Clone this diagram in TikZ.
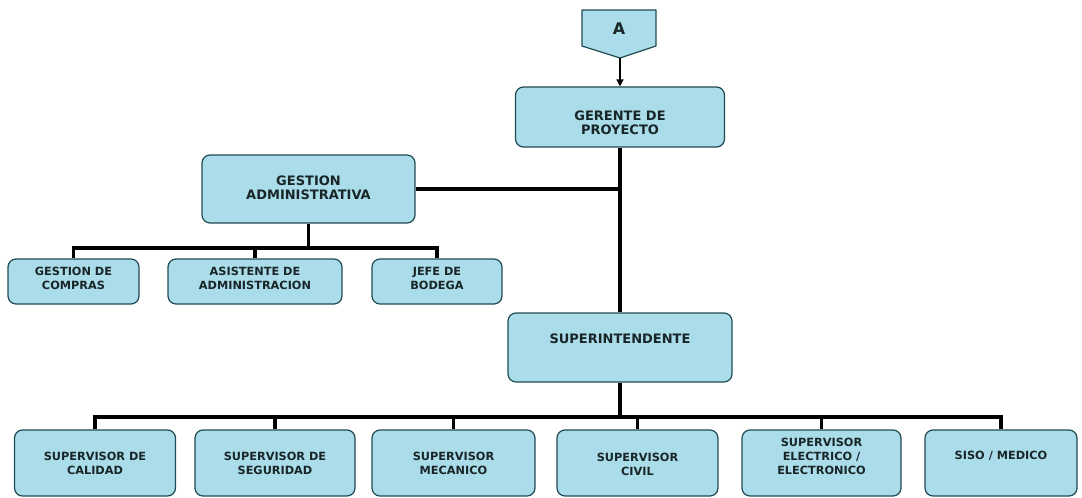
\documentclass[tikz,border=0pt]{standalone}
\usepackage{fontspec}
\setmainfont{DejaVu Sans}
\usetikzlibrary{arrows.meta}
\definecolor{boxfill}{HTML}{ABDCE9}
\definecolor{boxline}{HTML}{1E4A52}
\definecolor{txt}{HTML}{182628}
% centred label lines, moved up by #1 without changing the box size
\newcommand\boxlabel[2][0pt]{\raisebox{#1}[\height][\depth]{\begin{tabular}{@{}c@{}}#2\end{tabular}}}
\begin{document}
\begin{tikzpicture}[x=1pt,y=-1pt,
  unit/.style={draw=boxline, fill=boxfill, line width=1.2pt, rounded corners=8pt,
    align=center, text=txt, inner sep=0pt,
    font=\fontsize{11.3}{14}\selectfont\bfseries},
  headunit/.style={unit, font=\fontsize{13}{13.5}\selectfont\bfseries},
  bottomunit/.style={unit, minimum height=66pt},
  adminunit/.style={unit, minimum height=45pt},
  link/.style={draw=black, line width=3.1pt},
  feed/.style={draw=black, line width=1.4pt, -{Triangle[length=7pt,width=7pt]}}
]
\useasboundingbox (0,0) rectangle (1082,498);

% off-page connector "A"
\draw[draw=boxline, fill=boxfill, line width=1.2pt, line join=round]
  (582,10) -- (656,10) -- (656,46) -- (620,58) -- (582,46) -- cycle;
\node[text=txt, font=\fontsize{16}{18}\selectfont\bfseries] (conA) at (619,29) {A};
\coordinate (conAtip) at (620,58);

% top management
\node[headunit, minimum width=209pt, minimum height=60pt] (ger) at (620,117) {\boxlabel[-8pt]{GERENTE DE\\PROYECTO}};
\node[headunit, minimum width=213pt, minimum height=68pt] (gest) at (308.5,189) {\boxlabel[-1pt]{GESTION\\ADMINISTRATIVA}};
\node[headunit, minimum width=224pt, minimum height=69pt] (sup) at (620,347.5) {\boxlabel[7pt]{SUPERINTENDENTE}};

% administration staff
\node[adminunit, minimum width=131pt] (compras) at (73.5,281.5) {\boxlabel[1.5pt]{GESTION DE\\COMPRAS}};
\node[adminunit, minimum width=174pt] (asist) at (255,281.5) {\boxlabel[1.5pt]{ASISTENTE DE\\ADMINISTRACION}};
\node[adminunit, minimum width=130pt] (jefe) at (437,281.5) {\boxlabel[1.5pt]{JEFE DE\\BODEGA}};

% supervisors
\node[bottomunit, minimum width=161pt] (calidad) at (95,463) {\boxlabel[-2pt]{SUPERVISOR DE\\CALIDAD}};
\node[bottomunit, minimum width=160pt] (seguridad) at (275,463) {\boxlabel[-2pt]{SUPERVISOR DE\\SEGURIDAD}};
\node[bottomunit, minimum width=163pt] (mecanico) at (453.5,463) {\boxlabel[-2pt]{SUPERVISOR\\MECANICO}};
\node[bottomunit, minimum width=161pt] (civil) at (637.5,463) {\boxlabel[-3pt]{SUPERVISOR\\CIVIL}};
\node[bottomunit, minimum width=159pt] (electrico) at (821.5,463) {\boxlabel[5pt]{SUPERVISOR\\ELECTRICO /\\ELECTRONICO}};
\node[bottomunit, minimum width=152pt] (siso) at (1001,463) {\boxlabel[6pt]{SISO / MEDICO}};

% connectors
\draw[feed] (conAtip) -- (ger.north);
\draw[link] (ger.south) -- (sup.north);
\draw[link] (gest.east) -- (gest.east -| ger.south);

\coordinate (adminbus) at (308.5,248);
\draw[link] (gest.south) -- (adminbus);
\draw[link] (compras.north) |- (adminbus) -| (jefe.north);
\draw[link] (asist.north) -- (asist.north |- adminbus);

\coordinate (supbus) at (620,417);
\draw[link] (sup.south) -- (supbus);
\draw[link] (calidad.north) |- (supbus) -| (siso.north);
\foreach \n in {seguridad, mecanico, civil, electrico}
  \draw[link] (\n.north) -- (\n.north |- supbus);
\end{tikzpicture}
\end{document}
